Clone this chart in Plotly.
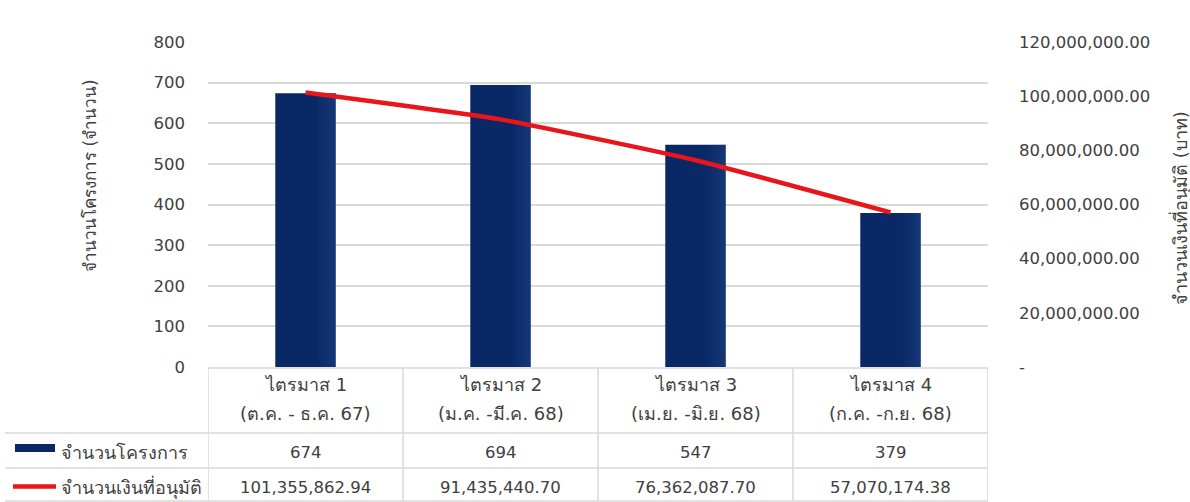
import plotly.graph_objects as go

# Quarterly data
quarters = ["ไตรมาส 1", "ไตรมาส 2", "ไตรมาส 3", "ไตรมาส 4"]
periods = ["(ต.ค. - ธ.ค. 67)", "(ม.ค. -มี.ค. 68)", "(เม.ย. -มิ.ย. 68)", "(ก.ค. -ก.ย. 68)"]
projects = [674, 694, 547, 379]
approved = [101355862.94, 91435440.70, 76362087.70, 57070174.38]

series_projects = "จำนวนโครงการ"
series_money = "จำนวนเงินที่อนุมัติ"
left_title = "จำนวนโครงการ (จำนวน)"
right_title = "จำนวนเงินที่อนุมัติ (บาท)"

left_ticks = [0, 100, 200, 300, 400, 500, 600, 700, 800]
right_ticks = [0, 20e6, 40e6, 60e6, 80e6, 100e6, 120e6]

W, H = 1190, 502
FONT = "'DejaVu Sans', Tahoma, sans-serif"
TEXT = "#404040"
GRID = "#d9d9d9"
NAVY = "#0b2866"
RED = "#e8161b"
NUM_SIZE = 16.5
THAI_SIZE = 18

# plot-area geometry in pixels
PL, PR, PT, PB = 208, 988, 42, 367
BAR_W = 0.31


def px_x(p):
    return p / W


def px_y(p):
    return 1 - p / H


xs = list(range(len(quarters)))

fig = go.Figure()
fig.add_trace(go.Bar(
    x=xs, y=projects, width=BAR_W, offset=-BAR_W / 2,
    marker=dict(color=NAVY, line=dict(width=0)),
    name=series_projects, yaxis="y", showlegend=False,
))
# thin translucent strips toward the right edge give each bar a soft shading
n_strips = 8
strip_w = 0.012
for k in range(n_strips):
    alpha = 0.05 + 0.045 * k
    fig.add_trace(go.Bar(
        x=xs, y=projects, width=strip_w, offset=BAR_W / 2 - (n_strips - k) * strip_w,
        marker=dict(color=f"rgba(40,85,150,{alpha:.3f})", line=dict(width=0)),
        yaxis="y", showlegend=False, hoverinfo="skip",
    ))
fig.add_trace(go.Scatter(
    x=xs, y=approved, mode="lines", line=dict(color=RED, width=4.5, shape="spline", smoothing=0.4),
    name=series_money, yaxis="y2", showlegend=False,
))

shapes = []
annotations = []

# table grid lines
row_lines = [368, 433, 468, 501]
shapes.append(dict(type="line", xref="paper", yref="paper", x0=px_x(PL), x1=px_x(PR),
                   y0=px_y(row_lines[0]), y1=px_y(row_lines[0]), line=dict(color=GRID, width=1.5)))
for yy in row_lines[1:]:
    shapes.append(dict(type="line", xref="paper", yref="paper", x0=px_x(5), x1=px_x(PR),
                       y0=px_y(yy), y1=px_y(yy), line=dict(color=GRID, width=1.5)))
for b in [i - 0.5 for i in range(len(quarters) + 1)]:
    shapes.append(dict(type="line", xref="x", yref="paper", x0=b, x1=b,
                       y0=px_y(row_lines[0]), y1=px_y(row_lines[-1]), line=dict(color=GRID, width=1.5)))

# legend keys inside the table
shapes.append(dict(type="rect", xref="paper", yref="paper", x0=px_x(15), x1=px_x(55),
                   y0=px_y(452), y1=px_y(444), fillcolor=NAVY, line=dict(width=0)))
shapes.append(dict(type="line", xref="paper", yref="paper", x0=px_x(13), x1=px_x(56),
                   y0=px_y(486.5), y1=px_y(486.5), line=dict(color=RED, width=4.5)))


def label(x, y, text, size, xref="x", xanchor="center", **kw):
    annotations.append(dict(x=x, y=px_y(y), xref=xref, yref="paper", text=text, showarrow=False,
                            xanchor=xanchor, yanchor="middle",
                            font=dict(size=size, color=TEXT, family=FONT), **kw))


for i, (q, p, n, m) in enumerate(zip(quarters, periods, projects, approved)):
    label(i, 384, q, THAI_SIZE)
    label(i, 413, p, THAI_SIZE)
    label(i, 452, f"{n:,}", NUM_SIZE)
    label(i, 487, f"{m:,.2f}", NUM_SIZE)

label(px_x(59), 452, series_projects, THAI_SIZE, xref="paper", xanchor="left")
label(px_x(59), 487, series_money, THAI_SIZE, xref="paper", xanchor="left")

# axis titles
label(px_x(90), 176, left_title, 17, xref="paper", textangle=-90)
label(px_x(1180), 208, right_title, 18, xref="paper", textangle=-90)

fig.update_layout(
    width=W, height=H,
    margin=dict(l=0, r=0, t=0, b=0, autoexpand=False),
    paper_bgcolor="white", plot_bgcolor="white",
    font=dict(family=FONT, color=TEXT, size=NUM_SIZE),
    barmode="overlay",
    xaxis=dict(domain=[px_x(PL), px_x(PR)], range=[-0.5, len(quarters) - 0.5],
               showticklabels=False, showgrid=False, zeroline=False, showline=False, ticks="",
               automargin=False),
    yaxis=dict(domain=[px_y(PB), px_y(PT)], range=[0, 800], tickvals=left_ticks,
               showgrid=True, gridcolor=GRID, gridwidth=1.5, zeroline=False, showline=False,
               ticks="", ticklabelstandoff=22, tickfont=dict(size=NUM_SIZE, color=TEXT),
               automargin=False),
    yaxis2=dict(domain=[px_y(PB), px_y(PT)], range=[0, 120e6], overlaying="y", side="right",
                tickvals=right_ticks,
                ticktext=["-" if v == 0 else f"{v:,.2f}" for v in right_ticks],
                showgrid=False, zeroline=False, showline=False, ticks="",
                ticklabelstandoff=30, tickfont=dict(size=NUM_SIZE, color=TEXT), automargin=False),
    shapes=shapes,
    annotations=annotations,
)

fig.write_html("out.html")
